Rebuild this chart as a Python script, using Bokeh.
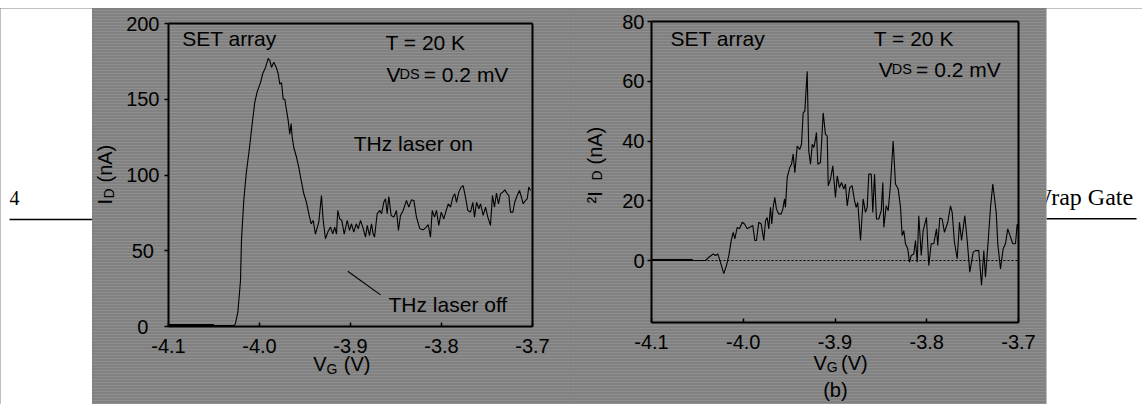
from bokeh.plotting import figure
from bokeh.layouts import row, column
from bokeh.models import (Range1d, FixedTicker, PrintfTickFormatter, Label, Spacer,
                          LinearAxis, BoxAnnotation)
from bokeh.embed import file_html
from bokeh.resources import INLINE

# ---------------- data ----------------
# (a) drain current, THz laser on
VG_A = [-4.1, -4.05, -4.028, -4.0264, -4.0238, -4.0209, -4.0198, -4.0173, -4.0146, -4.011,
        -4.008, -4.0052, -4.0025, -3.9989, -3.9964, -3.9934, -3.9904, -3.9887, -3.9868, -3.9843,
        -3.9816, -3.9795, -3.9777, -3.9758, -3.974, -3.9722, -3.9703, -3.9685, -3.9667, -3.9652,
        -3.9641, -3.9623, -3.9593, -3.9568, -3.9549, -3.9513, -3.9484, -3.9458, -3.9432, -3.941,
        -3.9385, -3.9348, -3.9319, -3.93, -3.9275, -3.9249, -3.922, -3.9195, -3.9173, -3.9154,
        -3.914, -3.9118, -3.9096, -3.9069, -3.9036, -3.9011, -3.8989, -3.8964, -3.8937, -3.8915,
        -3.889, -3.8865, -3.8835, -3.8816, -3.8791, -3.8769, -3.8751, -3.8736, -3.8707, -3.8678,
        -3.8659, -3.8634, -3.8615, -3.8597, -3.8579, -3.8553, -3.8524, -3.8495, -3.8473, -3.8451,
        -3.8421, -3.8385, -3.8359, -3.833, -3.8304, -3.8275, -3.8238, -3.8201, -3.8176, -3.8146,
        -3.8121, -3.8102, -3.8077, -3.8055, -3.803, -3.8003, -3.7975, -3.7948, -3.7926, -3.7901,
        -3.7876, -3.7854, -3.7835, -3.781, -3.7784, -3.7762, -3.7736, -3.7711, -3.7681, -3.7656,
        -3.7637, -3.7615, -3.759, -3.7571, -3.7542, -3.7516, -3.7491, -3.7462, -3.744, -3.7418,
        -3.7396, -3.7374, -3.7352, -3.7326, -3.7304, -3.7278, -3.726, -3.7242, -3.7216, -3.7195,
        -3.7168, -3.7143, -3.7121, -3.7102, -3.7077, -3.7058, -3.7041, -3.7022]
ID_ON = [0.6, 0.6, 0.6, 2, 9.5, 30, 57, 83, 101, 118,
         134, 148, 155, 161, 167, 171, 177, 175.6, 171, 174.5,
         171, 167, 160, 161, 150, 150, 142.6, 136, 127, 134,
         125, 118, 111.7, 105, 98.6, 87.6, 82, 74.4, 67.8, 70,
         61, 69, 86.5, 70, 57.9, 62.3, 65.6, 61.2, 65.6, 61,
         76.6, 71, 70, 61, 70, 63.4, 67.8, 62.3, 67.8, 64.5,
         70, 65.6, 59, 66.7, 60, 67.8, 61, 59, 74.4, 76.6,
         74.4, 82, 84.3, 74.4, 85.8, 73.3, 72.2, 76.6, 63.4, 73.3,
         76.6, 83.2, 78.8, 83.6, 83.2, 72.2, 64.5, 63.8, 65.1, 67.3,
         59, 76.6, 72.2, 76.6, 66.7, 75.5, 71, 76.6, 81, 78.8,
         85.3, 87.6, 82, 88.7, 92, 93, 85.3, 76.6, 75.5, 82,
         72.2, 82, 77.7, 81, 73.3, 78.8, 72.2, 66.7, 86.5, 78.8,
         88, 81, 87.6, 88.7, 90.2, 87.6, 86.5, 75.5, 75.5, 82,
         86.5, 89.8, 85.3, 81, 83.2, 84.3, 92, 89.8]
# (a) THz laser off (visible only below threshold)
VG_OFF = [-4.1, -4.05]
ID_OFF = [0.8, 0.8]

# (b) photo-induced current change
VG_B = [-4.1, -4.0411, -4.0375, -4.0328, -4.0302, -4.0277, -4.0248, -4.0212, -4.0183, -4.0157,
        -4.0131, -4.011, -4.0092, -4.0066, -4.0041, -4.0011, -3.9986, -3.9957, -3.9929, -3.9896,
        -3.9874, -3.9856, -3.9831, -3.9804, -3.9776, -3.9757, -3.9739, -3.9722, -3.9703, -3.9689,
        -3.9674, -3.9656, -3.9638, -3.9613, -3.9586, -3.9569, -3.955, -3.954, -3.9521, -3.9493,
        -3.9474, -3.9456, -3.9438, -3.9412, -3.9384, -3.9365, -3.9347, -3.9329, -3.9303, -3.9286,
        -3.9267, -3.9248, -3.9231, -3.922, -3.9202, -3.9187, -3.9158, -3.9129, -3.9104, -3.9085,
        -3.9074, -3.9049, -3.9024, -3.8995, -3.8976, -3.8951, -3.8929, -3.8904, -3.8886, -3.8867,
        -3.8839, -3.8813, -3.8787, -3.8769, -3.8752, -3.8722, -3.8693, -3.8668, -3.8649, -3.8632,
        -3.8605, -3.8588, -3.8569, -3.8548, -3.8523, -3.8496, -3.8479, -3.8468, -3.8442, -3.842,
        -3.8395, -3.8366, -3.8341, -3.8311, -3.8286, -3.8268, -3.825, -3.8232, -3.8207, -3.8188,
        -3.8169, -3.8141, -3.8123, -3.8104, -3.8087, -3.806, -3.8039, -3.8003, -3.7978, -3.7952,
        -3.7923, -3.7894, -3.788, -3.7858, -3.7832, -3.7807, -3.7771, -3.7741, -3.7723, -3.7698,
        -3.7668, -3.7643, -3.7621, -3.7585, -3.7559, -3.7531, -3.7494, -3.7469, -3.7433, -3.7403,
        -3.7378, -3.736, -3.733, -3.7305, -3.728, -3.7243, -3.7226, -3.7196, -3.7167, -3.7142,
        -3.7117, -3.7087, -3.7062, -3.7033, -3.7014, -3.7]
DID = [0, 0, 1.1, 2.2, 1.7, 2.2, -0.6, -4.4, -1.7, 1.7,
       6.7, 9.4, 7.2, 11.1, 10.6, 12.8, 12.2, 10.6, 11.1, 11.7,
       6.7, 6.7, 12.8, 12.2, 6.7, 13.3, 14.4, 10.6, 17.8, 12.2,
       17.8, 21.1, 17.2, 15.6, 15.6, 17.2, 20.6, 17.8, 27.8, 31.1,
       32.2, 35.6, 29.4, 38.3, 37.2, 38.9, 49.4, 50, 63.3, 36.7,
       32.2, 38.9, 37.8, 39.4, 42.8, 32.2, 32.8, 49.4, 42.2, 41.7,
       25, 27.2, 31.7, 21.1, 28.3, 24.4, 26.1, 23.9, 25.6, 18.3,
       24.4, 25, 20, 17.8, 19.4, 6.7, 20.6, 16.1, 17.8, 28.9,
       28.9, 16.1, 28.9, 13.9, 13.9, 16.7, 26.1, 11.1, 18.3, 16.7,
       25.6, 40, 25.6, 23.9, 17.8, 8.3, 10, 5.6, 3.9, -0.6,
       1.7, 2.2, 6.7, -0.6, 15, 1.7, 10, 14.4, -1.7, 5.6,
       5.6, 10.6, 5, 14.2, 13.9, 9.4, 12.8, 18.3, 16.1, 6.1,
       0.6, 12.8, 6.7, 15, 6.7, -3.9, 2.8, 3.3, 3.3, -8.3,
       3.3, -5.6, 6.7, 17.8, 25.6, 16.1, 5.6, -2.8, 3.9, 5.6,
       10.6, 7.8, 5.6, 5.6, 12.2, 10]
VG_B0 = [-4.1, -4.055]
DID_B0 = [0.2, 0.2]
# zero reference of panel (b)
ZERO_V = [-4.1, -3.7]
ZERO_Y = [0, 0]

X_TICKS = [-4.1, -4.0, -3.9, -3.8, -3.7]
YA_TICKS = [0, 50, 100, 150, 200]
YB_TICKS = [0, 20, 40, 60, 80]
# "THz laser off" pointer
PTR_V = [-3.903, -3.867]
PTR_I = [36.5, 20.9]

GRAY = "#818181"
STRIPE = "#8f8f8f"
FONT = "Liberation Sans"
SERIF = "Liberation Serif"
TOP, BOTTOM = 8, 404          # page rows covered by the figures
H = BOTTOM - TOP
TEXT_SHIFT = 8                # px: Label baseline correction


def panel(fig_left, fig_right, box, xlim, ylim, yticks, ystandoff):
    """box = (left, top, right, bottom) page pixels of the axes box."""
    bl, bt, br, bb = box
    sx = (br - bl) / (xlim[1] - xlim[0])
    sy = (bb - bt) / (ylim[1] - ylim[0])
    xr = Range1d(xlim[0] - (bl - fig_left) / sx, xlim[1] + (fig_right - br) / sx)
    yr = Range1d(ylim[0] - (BOTTOM - bb) / sy, ylim[1] + (bt - TOP) / sy)
    p = figure(width=fig_right - fig_left, height=H, x_range=xr, y_range=yr,
               toolbar_location=None, output_backend="svg", min_border=0,
               x_axis_location=None, y_axis_location=None)
    p.background_fill_color = GRAY
    p.border_fill_color = GRAY
    p.outline_line_color = None
    p.grid.visible = False
    # scan-line texture of the scanned figure
    p.add_layout(BoxAnnotation(fill_alpha=0, line_color=None, level="underlay",
                               hatch_pattern="horizontal_line", hatch_color=STRIPE,
                               hatch_scale=3, hatch_weight=1, hatch_alpha=1.0))

    def axis(loc, place, bounds, ticks):
        ax = LinearAxis(fixed_location=loc, bounds=bounds,
                        ticker=FixedTicker(ticks=ticks, minor_ticks=[]))
        ax.axis_line_width = 2
        ax.axis_line_color = "black"
        ax.major_tick_line_color = "black"
        ax.major_tick_line_width = 1.5
        ax.minor_tick_line_color = None
        ax.major_label_text_font = FONT
        ax.major_label_text_font_size = "20px"
        ax.major_label_text_color = "black"
        p.add_layout(ax, place)
        return ax

    xa = axis(ylim[0], "below", xlim, X_TICKS)
    xa.formatter = PrintfTickFormatter(format="%.1f")
    xa.major_tick_in = 4
    xa.major_tick_out = 0
    xa.major_label_standoff = 12
    ya = axis(xlim[0], "left", ylim, yticks)
    ya.major_tick_in = 0
    ya.major_tick_out = 4
    ya.major_label_standoff = ystandoff
    axis(ylim[1], "above", xlim, [])
    axis(xlim[1], "right", ylim, [])
    return p, ya, (sx, sy)


def lab(p, sc, x, y, text, size="21px", angle=0.0, font=FONT):
    sx, sy = sc
    if angle:
        x = x - TEXT_SHIFT / sx
    else:
        y = y + TEXT_SHIFT / sy
    p.add_layout(Label(x=x, y=y, text=text, text_font=font, text_font_size=size,
                       text_color="black", angle=angle, text_baseline="alphabetic",
                       text_align="left"))


def side(x0, x1):
    s = figure(width=x1 - x0, height=H, x_range=Range1d(x0, x1), y_range=Range1d(BOTTOM, TOP),
               toolbar_location=None, output_backend="svg", min_border=0,
               x_axis_location=None, y_axis_location=None)
    s.grid.visible = False
    s.outline_line_color = None
    s.border_fill_color = "white"
    s.background_fill_color = "white"
    return s, (1.0, -1.0)


# ---------- side strips (page text outside the scanned figure) ----------
sl, scl = side(0, 92)
lab(sl, scl, 9, 205, "4", size="20px", font=SERIF)
sl.segment(x0=[9], y0=[219], x1=[92], y1=[219], line_color="black", line_width=1.5)

sr, scr = side(1046, 1142)
lab(sr, scr, 1029, 204.5, "Wrap Gate", size="24px", font=SERIF)
sr.segment(x0=[1046], y0=[218.3], x1=[1136], y1=[218.3], line_color="black", line_width=1.5)

# ---------- panel (a) ----------
pa, ya_a, sca = panel(92, 570, (168, 23, 532, 326), (-4.1, -3.7), (0, 200), YA_TICKS, 5)
ya_a.major_label_overrides = {0: "0\u2007", 50: "50\u2008"}
pa.line(VG_A, ID_ON, line_color="black", line_width=1.1)
pa.line(VG_OFF, ID_OFF, line_color="black", line_width=2.5)
pa.line(PTR_V, PTR_I, line_color="black", line_width=1.1)
lab(pa, sca, -4.085, 185, "SET array")
lab(pa, sca, -3.8615, 182.2, "T = 20 K")
lab(pa, sca, -3.8604, 161.3, "V")
lab(pa, sca, -3.8462, 161.3, "DS", size="14.5px")
lab(pa, sca, -3.8195, 161.3, "= 0.2 mV")
lab(pa, sca, -3.8964, 115.5, "THz laser on")
lab(pa, sca, -3.8582, 9, "THz laser off")
# axis titles
lab(pa, sca, -3.9410, -30.36, "V", size="20px")
lab(pa, sca, -3.92637, -33.66, "G", size="14px")
lab(pa, sca, -3.90736, -30.36, "(V)", size="20px")
lab(pa, sca, -4.16044, 80.53, "I", size="20px", angle=1.5708)
lab(pa, sca, -4.15714, 84.49, "D", size="14px", angle=1.5708)
lab(pa, sca, -4.16044, 95.05, "(nA)", size="20px", angle=1.5708)

# ---------- panel (b) ----------
pb, ya_b, scb = panel(570, 1046, (651, 21, 1018, 322), (-4.1, -3.7), (-20.753, 80), YB_TICKS, 3)
pb.line(ZERO_V, ZERO_Y, line_color="black", line_width=1, line_dash="2 2")
pb.line(VG_B, DID, line_color="black", line_width=1.1)
pb.line(VG_B0, DID_B0, line_color="black", line_width=2)
lab(pb, scb, -4.0793, 71.7, "SET array")
lab(pb, scb, -3.8577, 71.7, "T = 20 K")
lab(pb, scb, -3.8523, 61.4, "V")
lab(pb, scb, -3.8381, 61.4, "DS", size="14.5px")
lab(pb, scb, -3.8116, 61.4, "= 0.2 mV")
lab(pb, scb, -3.92343, -36.82, "V", size="20px")
lab(pb, scb, -3.90894, -38.49, "G", size="14px")
lab(pb, scb, -3.89346, -36.82, "(V)", size="20px")
lab(pb, scb, -3.91286, -46.0, "(b)", size="20px")
lab(pb, scb, -4.15286, 19.08, "\u00b2I", size="20px", angle=1.5708)
lab(pb, scb, -4.15014, 26.78, "D", size="14px", angle=1.5708)
lab(pb, scb, -4.15286, 32.13, "(nA)", size="20px", angle=1.5708)

body = row(sl, pa, pb, sr, spacing=0, styles={"background-color": GRAY})
layout = column(Spacer(width=1142, height=TOP), body, spacing=0)
open("out.html", "w").write(file_html(layout, INLINE))
